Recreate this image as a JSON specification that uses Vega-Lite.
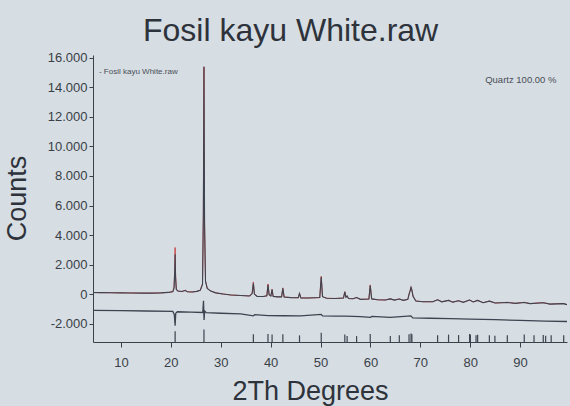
{
  "$schema": "https://vega.github.io/schema/vega-lite/v6.json",
  "autosize": {"type": "none"},
  "padding": {"left": 93, "top": 55, "right": 3, "bottom": 64},
  "width": 474,
  "height": 287,
  "background": "#d6dde3",
  "title": {"text": "Fosil kayu White.raw", "fontSize": 32, "fontWeight": "normal", "anchor": "start", "frame": "group", "dx": 50, "offset": 4, "color": "#2e333b", "font": "Liberation Sans"},
  "config": {
    "view": {"stroke": null},
    "font": "Liberation Sans",
    "locale": {"number": {"decimal": ",", "thousands": ".", "grouping": [3], "currency": ["", ""], "minus": "-"}},
    "axis": {"grid": false, "domainColor": "#3c4048", "tickColor": "#3c4048", "labelColor": "#3a3f47", "titleColor": "#2e333b", "labelFont": "Liberation Sans", "titleFont": "Liberation Sans", "titleFontWeight": "normal"}
  },
  "datasets": {
    "profile": [
      {"x":4.4,"obs":100,"calc":100},{"x":6,"obs":95,"calc":95},{"x":8,"obs":90,"calc":90},{"x":10,"obs":80,"calc":80},{"x":12,"obs":75,"calc":75},{"x":14,"obs":65,"calc":65},{"x":16,"obs":60,"calc":60},{"x":18,"obs":80,"calc":80},{"x":19.5,"obs":110,"calc":110},{"x":20.4,"obs":180,"calc":160},{"x":20.65,"obs":500,"calc":400},{"x":20.78,"obs":1800,"calc":1500},{"x":20.86,"obs":3150,"calc":2700},{"x":20.95,"obs":1300,"calc":1100},{"x":21.1,"obs":350,"calc":300},{"x":21.4,"obs":200,"calc":200},{"x":22.2,"obs":170,"calc":170},{"x":22.9,"obs":260,"calc":240},{"x":23.3,"obs":160,"calc":160},{"x":24.3,"obs":140,"calc":140},{"x":25.2,"obs":180,"calc":180},{"x":25.9,"obs":260,"calc":260},{"x":26.35,"obs":700,"calc":650},{"x":26.52,"obs":5500,"calc":5300},{"x":26.64,"obs":15400,"calc":15400},{"x":26.76,"obs":4800,"calc":4700},{"x":26.95,"obs":900,"calc":850},{"x":27.3,"obs":380,"calc":380},{"x":28,"obs":200,"calc":200},{"x":29,"obs":80,"calc":80},{"x":30.5,"obs":0,"calc":0},{"x":32,"obs":-60,"calc":-60},{"x":34,"obs":-100,"calc":-100},{"x":35.8,"obs":-130,"calc":-130},{"x":36.3,"obs":50,"calc":30},{"x":36.54,"obs":820,"calc":720},{"x":36.75,"obs":0,"calc":0},{"x":37.3,"obs":-160,"calc":-160},{"x":38.5,"obs":-170,"calc":-170},{"x":39.25,"obs":-120,"calc":-120},{"x":39.47,"obs":680,"calc":620},{"x":39.7,"obs":-50,"calc":-50},{"x":40.05,"obs":-140,"calc":-140},{"x":40.29,"obs":330,"calc":300},{"x":40.5,"obs":-160,"calc":-160},{"x":41.5,"obs":-190,"calc":-190},{"x":42.2,"obs":-190,"calc":-190},{"x":42.45,"obs":420,"calc":380},{"x":42.7,"obs":-200,"calc":-200},{"x":44,"obs":-240,"calc":-240},{"x":45.55,"obs":-250,"calc":-250},{"x":45.79,"obs":60,"calc":40},{"x":46.05,"obs":-260,"calc":-260},{"x":47.5,"obs":-270,"calc":-270},{"x":49.85,"obs":-240,"calc":-240},{"x":50.14,"obs":1200,"calc":1150},{"x":50.4,"obs":-180,"calc":-180},{"x":51.2,"obs":-280,"calc":-280},{"x":53,"obs":-300,"calc":-300},{"x":54.6,"obs":-270,"calc":-270},{"x":54.87,"obs":160,"calc":140},{"x":55.1,"obs":-220,"calc":-220},{"x":55.33,"obs":-120,"calc":-130},{"x":55.6,"obs":-300,"calc":-300},{"x":56.5,"obs":-320,"calc":-320},{"x":57.23,"obs":-230,"calc":-240},{"x":58,"obs":-360,"calc":-360},{"x":59.7,"obs":-340,"calc":-340},{"x":59.96,"obs":620,"calc":580},{"x":60.25,"obs":-330,"calc":-330},{"x":61.5,"obs":-390,"calc":-390},{"x":63,"obs":-400,"calc":-400},{"x":63.99,"obs":-320,"calc":-330},{"x":64.8,"obs":-410,"calc":-410},{"x":65.79,"obs":-330,"calc":-340},{"x":66.6,"obs":-430,"calc":-430},{"x":67.5,"obs":-360,"calc":-360},{"x":67.74,"obs":0,"calc":-20},{"x":67.95,"obs":220,"calc":200},{"x":68.14,"obs":480,"calc":450},{"x":68.31,"obs":280,"calc":260},{"x":68.55,"obs":-150,"calc":-150},{"x":69.1,"obs":-470,"calc":-470},{"x":70.5,"obs":-520,"calc":-520},{"x":72.5,"obs":-520,"calc":-520},{"x":73.47,"obs":-380,"calc":-390},{"x":74.3,"obs":-530,"calc":-530},{"x":75.66,"obs":-420,"calc":-430},{"x":76.5,"obs":-550,"calc":-550},{"x":77.67,"obs":-450,"calc":-460},{"x":78.6,"obs":-560,"calc":-560},{"x":79.88,"obs":-400,"calc":-410},{"x":80.6,"obs":-540,"calc":-540},{"x":81.49,"obs":-420,"calc":-430},{"x":82.6,"obs":-590,"calc":-590},{"x":83.84,"obs":-470,"calc":-480},{"x":85,"obs":-610,"calc":-610},{"x":87.44,"obs":-560,"calc":-570},{"x":89,"obs":-630,"calc":-630},{"x":90.83,"obs":-560,"calc":-570},{"x":92,"obs":-650,"calc":-650},{"x":94.64,"obs":-580,"calc":-590},{"x":96,"obs":-680,"calc":-680},{"x":98.7,"obs":-640,"calc":-650},{"x":99.4,"obs":-720,"calc":-720}
    ],
    "diff": [
      {"x":4.4,"d":-1100},{"x":10,"d":-1120},{"x":15,"d":-1150},{"x":20.4,"d":-1180},{"x":20.7,"d":-1400},{"x":20.86,"d":-2150},{"x":20.98,"d":-1300},{"x":21.3,"d":-1200},{"x":24,"d":-1220},{"x":26.4,"d":-1250},{"x":26.55,"d":-450},{"x":26.66,"d":-1750},{"x":26.78,"d":-1150},{"x":27.1,"d":-1260},{"x":30,"d":-1300},{"x":34,"d":-1350},{"x":36.54,"d":-1480},{"x":36.8,"d":-1400},{"x":39.5,"d":-1460},{"x":42.5,"d":-1470},{"x":46,"d":-1480},{"x":50.14,"d":-1380},{"x":50.4,"d":-1480},{"x":53,"d":-1500},{"x":55,"d":-1490},{"x":58,"d":-1530},{"x":60,"d":-1580},{"x":60.3,"d":-1520},{"x":64,"d":-1580},{"x":68.1,"d":-1480},{"x":68.5,"d":-1620},{"x":72,"d":-1640},{"x":76,"d":-1660},{"x":80,"d":-1700},{"x":85,"d":-1740},{"x":90,"d":-1790},{"x":95,"d":-1830},{"x":99.4,"d":-1860}
    ],
    "sticks": [
      {"x":20.86,"top":-2520},{"x":26.64,"top":-2400},{"x":36.54,"top":-2720},{"x":39.47,"top":-2700},{"x":40.29,"top":-2750},{"x":42.45,"top":-2730},{"x":45.79,"top":-2800},{"x":50.14,"top":-2620},{"x":54.87,"top":-2750},{"x":55.33,"top":-2850},{"x":57.23,"top":-2850},{"x":59.96,"top":-2700},{"x":63.99,"top":-2850},{"x":65.79,"top":-2800},{"x":67.74,"top":-2720},{"x":68.14,"top":-2680},{"x":68.31,"top":-2720},{"x":73.47,"top":-2800},{"x":75.66,"top":-2750},{"x":77.67,"top":-2780},{"x":79.88,"top":-2700},{"x":80.04,"top":-2750},{"x":81.17,"top":-2800},{"x":81.49,"top":-2760},{"x":83.84,"top":-2800},{"x":84.95,"top":-2820},{"x":87.44,"top":-2800},{"x":90.83,"top":-2750},{"x":92.79,"top":-2800},{"x":94.64,"top":-2780},{"x":95.12,"top":-2820},{"x":96.23,"top":-2800},{"x":98.74,"top":-2800}
    ],
    "notes": [
      {"x":5.6,"y":15050,"label":"- Fosil kayu White.raw","size":8},
      {"x":83,"y":14500,"label":"Quartz 100.00 %","size":9.5}
    ]
  },
  "layer": [
    {
      "data": {"name": "profile"},
      "mark": {"type": "line", "color": "#c94a4a", "strokeWidth": 1, "clip": true},
      "encoding": {
        "x": {"field": "x", "type": "quantitative", "scale": {"domain": [4.4, 99.4], "nice": false, "zero": false},
          "axis": {"values": [10,20,30,40,50,60,70,80,90], "tickCount": 20, "tickSize": 5, "labelPadding": 9, "labelFontSize": 13, "labelOverlap": false, "title": "2Th Degrees", "titleFontSize": 27, "titleX": 217, "titleY": 57, "titleBaseline": "alphabetic", "titleAlign": "center"}},
        "y": {"field": "obs", "type": "quantitative", "scale": {"domain": [-3250, 16200], "nice": false, "zero": false},
          "axis": {"values": [-2000,0,2000,4000,6000,8000,10000,12000,14000,16000], "tickCount": 20, "format": ",.0f", "tickSize": 4, "labelFontSize": 13, "labelOverlap": false, "title": "Counts", "titleFontSize": 27, "titleX": -76, "titleY": 143, "titleAngle": 270, "titleBaseline": "middle", "titleAlign": "center"}}
      }
    },
    {
      "data": {"name": "profile"},
      "mark": {"type": "line", "color": "#3d4450", "strokeWidth": 1.1, "clip": true},
      "encoding": {
        "x": {"field": "x", "type": "quantitative"},
        "y": {"field": "calc", "type": "quantitative"}
      }
    },
    {
      "data": {"name": "diff"},
      "mark": {"type": "line", "color": "#3d4450", "strokeWidth": 1.3, "clip": true},
      "encoding": {
        "x": {"field": "x", "type": "quantitative"},
        "y": {"field": "d", "type": "quantitative"}
      }
    },
    {
      "data": {"name": "sticks"},
      "mark": {"type": "rule", "color": "#3d4450", "strokeWidth": 1.2},
      "encoding": {
        "x": {"field": "x", "type": "quantitative"},
        "y": {"field": "top", "type": "quantitative"},
        "y2": {"datum": -3250}
      }
    },
    {
      "data": {"name": "notes"},
      "mark": {"type": "text", "align": "left", "baseline": "middle", "color": "#4a4f57", "font": "Liberation Sans"},
      "encoding": {
        "x": {"field": "x", "type": "quantitative"},
        "y": {"field": "y", "type": "quantitative"},
        "text": {"field": "label"},
        "size": {"field": "size", "type": "quantitative", "scale": null}
      }
    }
  ]
}
